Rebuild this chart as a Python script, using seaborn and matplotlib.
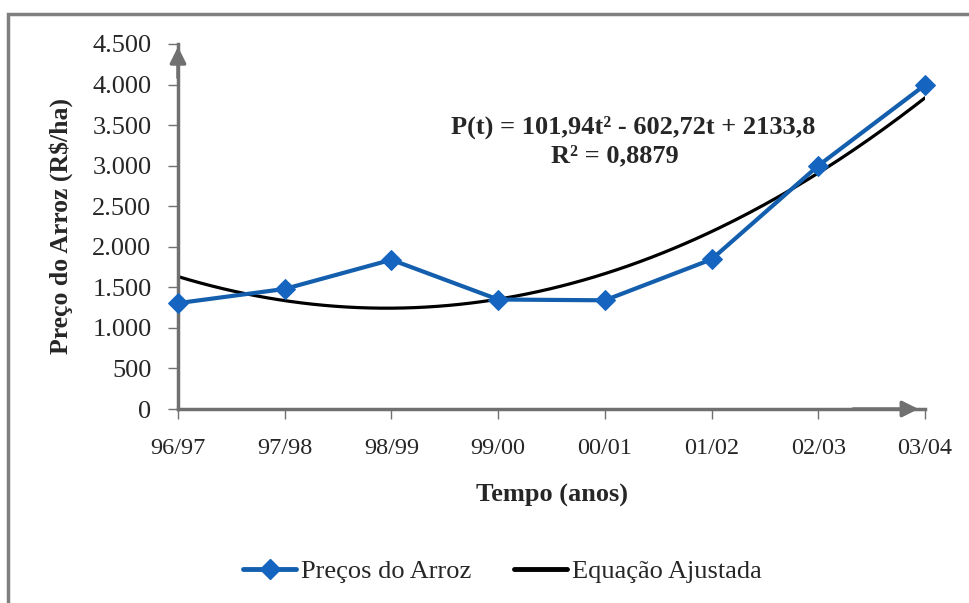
"""Preço do arroz por safra com a equação quadrática ajustada."""

import matplotlib

matplotlib.use("Agg")
import matplotlib.pyplot as plt
import numpy as np
import pandas as pd
import seaborn as sns
from matplotlib.lines import Line2D
from matplotlib.patches import Rectangle


SAFRAS = ["96/97", "97/98", "98/99", "99/00", "00/01", "01/02", "02/03", "03/04"]
PRECOS = [1305, 1480, 1840, 1350, 1340, 1845, 3000, 3995]
# coeficientes impressos no gráfico: P(t) = a t² + b t + c, t = 1..8
COEF_AJUSTE = [101.94, -602.72, 2133.8]
Y_TICKS = [0, 500, 1000, 1500, 2000, 2500, 3000, 3500, 4000, 4500]
Y_TICK_LABELS = ["0", "500", "1.000", "1.500", "2.000", "2.500",
                 "3.000", "3.500", "4.000", "4.500"]

AZUL = "#135FAE"
CINZA = "#707070"
SERIFA = ["Liberation Serif", "DejaVu Serif"]


def main() -> None:
    sns.set_style("white")
    plt.rcParams["font.family"] = SERIFA

    fig = plt.figure(figsize=(9.7, 6.03), dpi=100)
    ax = fig.add_axes([178 / 970, 1 - 409 / 603, 747 / 970, 365 / 603])

    dados = pd.DataFrame({"pos": np.arange(len(SAFRAS)), "preco": PRECOS})
    t = np.linspace(1, len(SAFRAS), 200)
    curva = pd.DataFrame({"pos": t - 1, "preco": np.polyval(COEF_AJUSTE, t)})

    sns.lineplot(data=curva, x="pos", y="preco", ax=ax, color="black",
                 linewidth=2.3, zorder=2)
    sns.lineplot(data=dados, x="pos", y="preco", ax=ax, color=AZUL,
                 linewidth=3, marker="D", markersize=10,
                 markerfacecolor="#1565C0", markeredgecolor="#1565C0",
                 zorder=3, clip_on=False)

    ax.set_xlim(0, len(SAFRAS) - 1)
    ax.set_ylim(0, 4500)
    ax.set_xticks(range(len(SAFRAS)))
    ax.set_xticklabels(SAFRAS, fontsize=17.5)
    ax.set_yticks(Y_TICKS)
    ax.set_yticklabels(Y_TICK_LABELS, fontsize=19)
    ax.tick_params(axis="both", direction="out", length=7, width=1,
                   color=CINZA, left=True, bottom=True)
    ax.tick_params(axis="x", pad=14)
    ax.tick_params(axis="y", pad=12)

    for lado in ["top", "right"]:
        ax.spines[lado].set_visible(False)
    for lado in ["left", "bottom"]:
        ax.spines[lado].set_color(CINZA)
        ax.spines[lado].set_linewidth(2.5)

    # setas nos eixos
    seta = dict(arrowstyle="-|>", color=CINZA, lw=2.5, mutation_scale=24)
    ax.annotate("", xy=(0, 1.0), xytext=(0, 0.9), xycoords="axes fraction",
                arrowprops=seta, annotation_clip=False)
    ax.annotate("", xy=(0.995, 0), xytext=(0.9, 0), xycoords="axes fraction",
                arrowprops=seta, annotation_clip=False)

    ax.set_xlabel("Tempo (anos)", fontsize=19, fontweight="bold", labelpad=18)
    ax.set_ylabel("Preço do Arroz (R$/ha)", fontsize=18.5, fontweight="bold",
                  labelpad=14)

    ax.text(0.61, 0.771, "P(t) = 101,94t² - 602,72t + 2133,8",
            transform=ax.transAxes, ha="center", va="center", fontsize=19,
            fontweight="bold")
    ax.text(0.585, 0.693, "R² = 0,8879",
            transform=ax.transAxes, ha="center", va="center", fontsize=19,
            fontweight="bold")

    handles = [
        Line2D([], [], color=AZUL, linewidth=3.5, marker="D", markersize=10,
               markerfacecolor="#1565C0", markeredgecolor="#1565C0"),
        Line2D([], [], color="black", linewidth=3.5),
    ]
    fig.legend(handles, ["Preços do Arroz", "Equação Ajustada"], ncol=2,
               loc="center", bbox_to_anchor=(0.518, 0.053), frameon=False,
               prop={"family": SERIFA, "size": 19}, handlelength=2.0,
               handletextpad=0.2, columnspacing=1.6)

    fig.add_artist(Rectangle((8 / 970, -0.1), 1.2, 1 - 14 / 603 + 0.1,
                             transform=fig.transFigure, fill=False,
                             edgecolor="#7F7F7F", linewidth=2.5))

    fig.savefig("out.png", dpi=100)
    plt.close(fig)


if __name__ == "__main__":
    main()
